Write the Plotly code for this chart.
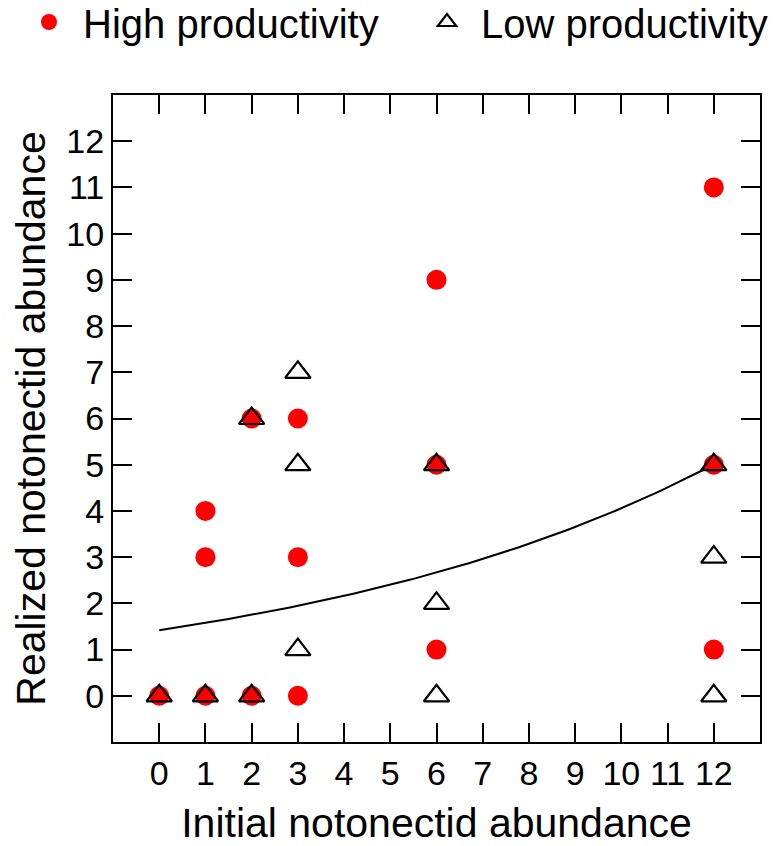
import numpy as np
import plotly.graph_objects as go

# Observed realized abundance vs. initial abundance
high_x = [0, 1, 1, 1, 2, 2, 3, 3, 3, 6, 6, 6, 12, 12, 12]
high_y = [0, 4, 3, 0, 6, 0, 6, 3, 0, 9, 5, 1, 11, 5, 1]

low_x = [0, 1, 2, 2, 3, 3, 3, 6, 6, 6, 12, 12, 12]
low_y = [0, 0, 6, 0, 7, 5, 1, 5, 2, 0, 5, 3, 0]

# Exponential fit: y = a * exp(b * x)
fit_a = 1.42
fit_b = 0.105
fit_x = np.linspace(0, 12, 121)
fit_y = fit_a * np.exp(fit_b * fit_x)

tick_vals = list(range(0, 13))
tick_text = [str(v) for v in tick_vals]

FONT = "Liberation Sans, Arial, sans-serif"
W, H = 783, 846

fig = go.Figure()

fig.add_trace(go.Scatter(
    x=fit_x, y=fit_y, mode="lines",
    line=dict(color="black", width=2),
    showlegend=False, hoverinfo="skip",
))

fig.add_trace(go.Scatter(
    x=high_x, y=high_y, mode="markers", name="High productivity",
    marker=dict(symbol="circle", size=20, color="#ff0000", line=dict(width=0)),
    legend="legend",
))

fig.add_trace(go.Scatter(
    x=low_x, y=low_y, mode="markers", name="Low productivity",
    marker=dict(symbol="triangle-up-open", size=22, color="black",
                line=dict(width=2.2, color="black")),
    legend="legend2",
))

axis_common = dict(
    range=[-1, 13],
    tickmode="array",
    tickvals=tick_vals,
    ticktext=tick_text,
    ticks="inside",
    ticklen=19,
    tickwidth=2,
    tickcolor="black",
    showline=True,
    linewidth=2,
    linecolor="black",
    mirror="ticks",
    showgrid=False,
    zeroline=False,
    tickfont=dict(family=FONT, size=34, color="black"),
)

fig.update_xaxes(
    **axis_common,
    title=dict(text="Initial notonectid abundance",
               font=dict(family=FONT, size=41, color="black"), standoff=28),
)
fig.update_yaxes(
    **axis_common,
    title=dict(text="Realized notonectid abundance",
               font=dict(family=FONT, size=41, color="black"), standoff=8),
)

legend_common = dict(
    orientation="h",
    xref="container", yref="container",
    yanchor="middle", xanchor="left",
    y=1 - 22 / H,
    itemwidth=58,
    font=dict(family=FONT, size=40, color="black"),
    bgcolor="rgba(0,0,0,0)",
)

fig.update_layout(
    width=W, height=H,
    margin=dict(l=113, r=23, t=95, b=104, autoexpand=False),
    paper_bgcolor="white",
    plot_bgcolor="white",
    font=dict(family=FONT, color="black"),
    legend=dict(**legend_common, x=15 / W),
    legend2=dict(**legend_common, x=413 / W),
)

fig.write_html("out.html")
